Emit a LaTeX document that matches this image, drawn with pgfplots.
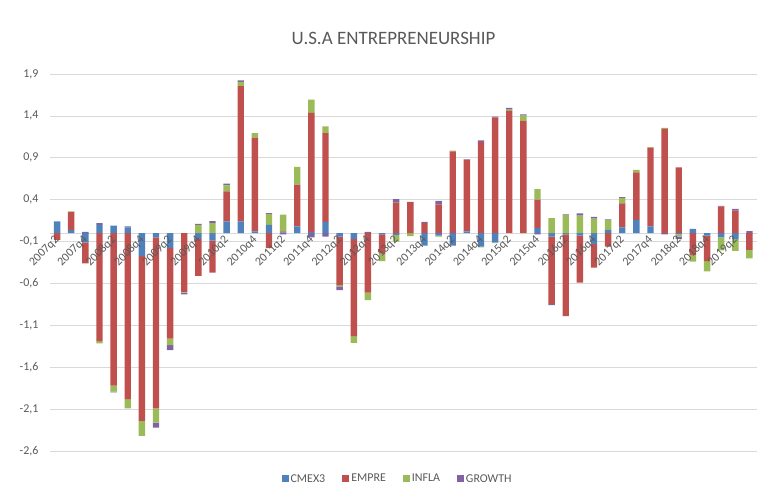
\documentclass[border=0pt]{standalone}
\usepackage{pgfplots}
\pgfplotsset{compat=1.18}
\usepackage{pgfplotstable}
\usepackage{fontspec}
\setmainfont{Carlito}
\definecolor{cC}{HTML}{4F81BD}
\definecolor{cE}{HTML}{C0504D}
\definecolor{cI}{HTML}{9BBB59}
\definecolor{cG}{HTML}{8064A2}
\definecolor{txt}{HTML}{595959}
\definecolor{grd}{HTML}{D9D9D9}

\pgfplotstableread{
i C E I G
0 0.14 -0.08 0 0
1 0.04 0.21 0.01 0
2 -0.11 -0.25 0 0.015
3 0.10 -1.29 -0.025 0.02
4 0.09 -1.82 -0.07 -0.01
5 0.07 -1.98 -0.11 0.01
6 -0.27 -1.97 -0.18 0
7 -0.05 -2.04 -0.17 -0.06
8 -0.18 -1.08 -0.075 -0.06
9 0 -0.70 -0.01 -0.02
10 -0.07 -0.44 0.10 0.01
11 -0.09 -0.38 0.12 0.025
12 0.14 0.36 0.07 0.02
13 0.14 1.615 0.05 0.02
14 0.02 1.12 0.055 0
15 0.10 -0.18 0.13 0.01
16 0.01 0.01 0.20 -0.015
17 0.08 0.50 0.21 0
18 0.015 1.42 0.16 -0.05
19 0.135 1.06 0.08 -0.04
20 -0.04 -0.58 -0.015 -0.045
21 -0.07 -1.16 -0.08 0
22 0 -0.71 -0.09 0.015
23 -0.015 -0.23 -0.09 0
24 -0.02 0.365 -0.08 0.04
25 0 0.37 -0.035 0.005
26 -0.15 0.12 0 0.015
27 -0.03 0.345 -0.01 0.04
28 -0.14 0.975 0.01 -0.01
29 0.02 0.855 0 0.005
30 -0.16 1.087 -0.01 0.02
31 -0.11 1.38 -0.01 0.01
32 0 1.46 0.015 0.02
33 0 1.337 0.065 0.015
34 0.06 0.34 0.125 -0.015
35 -0.04 -0.805 0.18 -0.015
36 -0.015 -0.975 0.215 0.01
37 -0.03 -0.56 0.21 0.025
38 -0.13 -0.28 0.175 0.02
39 0.04 -0.16 0.115 0.01
40 0.07 0.285 0.065 0.01
41 0.16 0.565 0.03 0
42 0.08 0.94 0.008 0
43 0 1.246 0.01 -0.015
44 -0.015 0.786 -0.025 -0.03
45 0.05 -0.26 -0.08 0
46 -0.03 -0.305 -0.12 0
47 -0.05 0.32 -0.155 0.005
48 -0.07 0.27 -0.14 0.02
49 0 -0.20 -0.10 0.025
}\data

\begin{document}
\begin{tikzpicture}[x=1bp,y=1bp]
\useasboundingbox (0,0) rectangle (761,490);
\pgfplotsset{base/.style={at={(50bp,39bp)}, anchor=south west, scale only axis,
  width=706.5bp, height=377bp, xmin=-0.5, xmax=49.5, ymin=-2.6, ymax=1.9,
  ybar stacked, bar width=6.4bp, major tick length=0}}
% back layer: grid, y labels, zero line, negative parts
\begin{axis}[base,
  axis x line*=middle, axis y line*=left,
  y axis line style={draw=none},
  x axis line style={grd, line width=0.75bp},
  xtick=\empty,
  ymajorgrids, major grid style={grd, line width=0.75bp},
  ytick={-2.6,-2.1,-1.6,-1.1,-0.6,-0.1,0.4,0.9,1.4,1.9},
  yticklabel style={/pgf/number format/fixed, /pgf/number format/fixed zerofill,
    /pgf/number format/precision=1, /pgf/number format/use comma,
    /pgf/number format/assume math mode=true,
    font=\fontsize{12}{14}\selectfont, text=txt, xshift=-8bp},
]
\addplot[fill=cC, draw=none] table[x=i, y expr={min(\thisrow{C},0)}] {\data};
\addplot[fill=cE, draw=none] table[x=i, y expr={min(\thisrow{E},0)}] {\data};
\addplot[fill=cI, draw=none] table[x=i, y expr={min(\thisrow{I},0)}] {\data};
\addplot[fill=cG, draw=none] table[x=i, y expr={min(\thisrow{G},0)}] {\data};
\end{axis}
% front layer: positive parts, x labels on top, legend
\begin{axis}[base, axis on top,
  axis x line*=middle, axis y line=none,
  x axis line style={draw=none},
  ytick=\empty,
  xtick={0,2,...,48},
  xticklabels={2007q2,2007q4,2008q2,2008q4,2009q2,2009q4,2010q2,2010q4,2011q2,2011q4,2012q2,2012q4,2013q2,2013q4,2014q2,2014q4,2015q2,2015q4,2016q2,2016q4,2017q2,2017q4,2018q2,2018q4,2019q2},
  xticklabel style={rotate=45, anchor=east, font=\fontsize{12}{14}\selectfont, text=txt, yshift=-4bp, xshift=0bp},
  legend style={at={(0.492,-0.074)}, anchor=center, draw=none, fill=none,
    legend columns=4, font=\fontsize{12}{14}\selectfont, text=txt,
    /tikz/every even column/.append style={column sep=15bp}},
  legend image code/.code={\fill[#1] (0bp,-3.5bp) rectangle (7bp,3.5bp);},
]
\addplot[fill=cC, draw=none] table[x=i, y expr={max(\thisrow{C},0)}] {\data};
\addplot[fill=cE, draw=none] table[x=i, y expr={max(\thisrow{E},0)}] {\data};
\addplot[fill=cI, draw=none] table[x=i, y expr={max(\thisrow{I},0)}] {\data};
\addplot[fill=cG, draw=none] table[x=i, y expr={max(\thisrow{G},0)}] {\data};
\legend{CMEX3,EMPRE,INFLA,GROWTH}
\end{axis}
\node[text=txt, font=\fontsize{19}{22}\selectfont] at (393.5,452) {U.S.A ENTREPRENEURSHIP};
\end{tikzpicture}
\end{document}
